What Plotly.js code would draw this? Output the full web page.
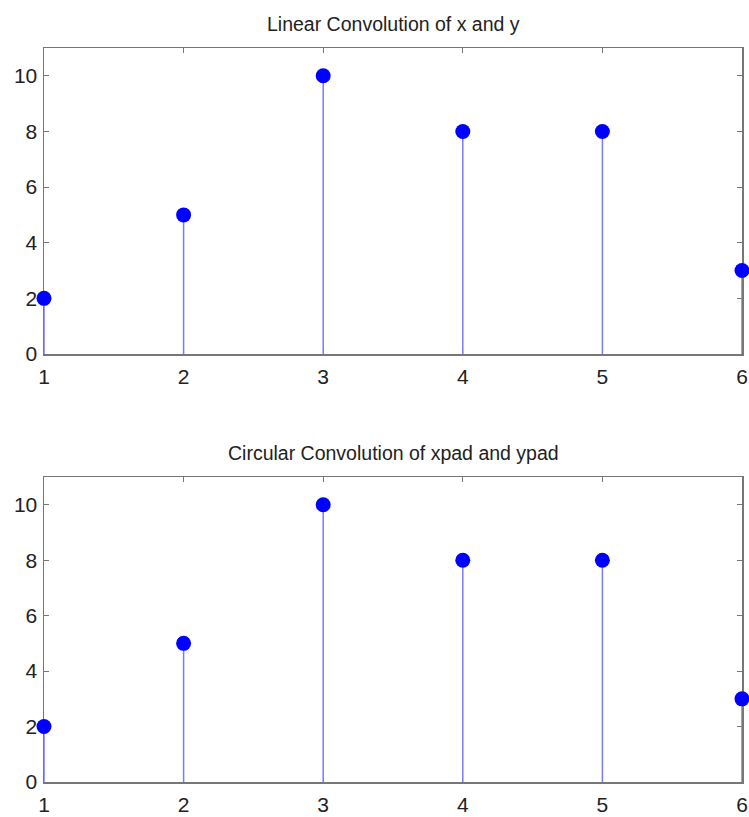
<!DOCTYPE html>
<html><head><meta charset="utf-8">
<script src="https://cdn.plot.ly/plotly-3.0.1.min.js"></script>
<style>body{margin:0;background:#fff}</style>
</head><body><div id="c" style="width:749px;height:817px"></div>
<script>
var n = [1, 2, 3, 4, 5, 6];
var linearConv = [2, 5, 10, 8, 8, 3];
var circularConv = [2, 5, 10, 8, 8, 3];
var xTicks = [1, 2, 3, 4, 5, 6];
var yTicks = [0, 2, 4, 6, 8, 10];
var titleTop = "Linear Convolution of x and y";
var titleBottom = "Circular Convolution of xpad and ypad";

function stems(xs, ys) {
  var sx = [], sy = [];
  for (var i = 0; i < xs.length; i++) { sx.push(xs[i], xs[i], null); sy.push(0, ys[i], null); }
  return {x: sx, y: sy};
}
var s1 = stems(n, linearConv), s2 = stems(n, circularConv);
var stemColor = '#7b7bff', markColor = '#0000ff';
var data = [
  {x: s1.x, y: s1.y, mode: 'lines', line: {color: stemColor, width: 1.5}, xaxis: 'x', yaxis: 'y', hoverinfo: 'skip', cliponaxis: false},
  {x: n, y: linearConv, mode: 'markers', marker: {color: markColor, size: 15}, xaxis: 'x', yaxis: 'y', cliponaxis: false},
  {x: s2.x, y: s2.y, mode: 'lines', line: {color: stemColor, width: 1.5}, xaxis: 'x2', yaxis: 'y2', hoverinfo: 'skip', cliponaxis: false},
  {x: n, y: circularConv, mode: 'markers', marker: {color: markColor, size: 15}, xaxis: 'x2', yaxis: 'y2', cliponaxis: false}
];
var tickFont = {family: 'Liberation Sans, Arial, sans-serif', size: 21, color: '#222'};
var titleFont = {family: 'Liberation Sans, Arial, sans-serif', size: 19.5, color: '#222'};
function xa(anchor) {
  return {anchor: anchor, range: [1, 6], tickvals: xTicks, ticktext: xTicks.map(String), ticks: 'inside', ticklen: 5,
    tickcolor: '#777', showline: true, linecolor: '#777', linewidth: 1.5, mirror: 'allticks', showgrid: false,
    zeroline: false, tickfont: tickFont, ticklabelstandoff: 3, layer: 'below traces'};
}
function ya(anchor, dom) {
  return {anchor: anchor, domain: dom, range: [0, 11], tickvals: yTicks, ticktext: yTicks.map(String), ticks: 'inside', ticklen: 5,
    tickcolor: '#777', showline: true, linecolor: '#777', linewidth: 1.5, mirror: 'allticks', showgrid: false,
    zeroline: false, tickfont: tickFont, ticklabelstandoff: 1, layer: 'below traces'};
}
var layout = {
  width: 749, height: 817, showlegend: false,
  margin: {l: 44, r: 7, t: 48, b: 35},
  paper_bgcolor: '#fff', plot_bgcolor: '#fff',
  xaxis: xa('y'), yaxis: ya('x', [0.5831, 1]),
  xaxis2: xa('y2'), yaxis2: ya('x2', [0, 0.4155]),
  annotations: [
    {text: titleTop, xref: 'paper', yref: 'paper', x: 0.5, y: 1, yanchor: 'bottom', yshift: 11, showarrow: false, font: titleFont},
    {text: titleBottom, xref: 'paper', yref: 'paper', x: 0.5, y: 0.4155, yanchor: 'bottom', yshift: 11, showarrow: false, font: titleFont}
  ]
};
Plotly.newPlot('c', data, layout, {displayModeBar: false, staticPlot: true});
</script></body></html>
